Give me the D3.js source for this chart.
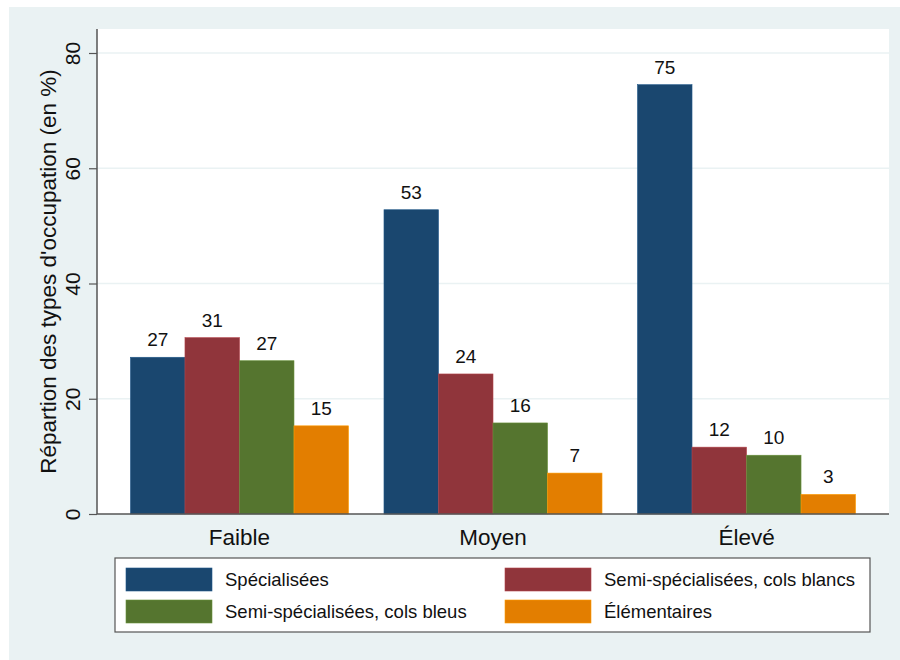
<!DOCTYPE html>
<html><head><meta charset="utf-8">
<script src="https://cdn.jsdelivr.net/npm/d3@7"></script>
<style>body{margin:0;background:#fff;}svg{display:block;font-family:"Liberation Sans",Arial,sans-serif;}</style>
</head><body><svg id="c" width="900" height="660"></svg>
<script>
const categories = ["Faible", "Moyen", "Élevé"];
const seriesNames = ["Spécialisées", "Semi-spécialisées, cols blancs", "Semi-spécialisées, cols bleus", "Élémentaires"];
const specialisees = [27.2, 52.8, 74.5];
const colsBlancs = [30.6, 24.3, 11.6];
const colsBleus = [26.6, 15.8, 10.2];
const elementaires = [15.3, 7.1, 3.4];
const valueLabels = [[27, 53, 75], [31, 24, 12], [27, 16, 10], [15, 7, 3]];
const yTicks = [0, 20, 40, 60, 80];
const colors = ["#1a476f", "#90353b", "#55752f", "#e37e00"];
const series = [specialisees, colsBlancs, colsBleus, elementaires];

const svg = d3.select("#c");
svg.append("rect").attr("x", 9).attr("y", 7).attr("width", 891).attr("height", 653).attr("fill", "#eaf2f3");

const L = 97, R = 889, T = 29, B = 514;
svg.append("rect").attr("x", L).attr("y", T).attr("width", R - L).attr("height", B - T).attr("fill", "#fff");

const x = d3.scaleBand().domain(categories).range([L, R]).paddingInner(0.14).paddingOuter(0.132);
const xs = d3.scaleBand().domain(d3.range(series.length)).range([0, x.bandwidth()]);
const y = d3.scaleLinear().domain([0, 80]).range([B, 53]);

// grid
svg.append("g").selectAll("line").data(yTicks.filter(d => d > 0)).join("line")
  .attr("x1", L).attr("x2", R).attr("y1", d => y(d)).attr("y2", d => y(d))
  .attr("stroke", "#eaf2f3").attr("stroke-width", 1.5);

// bars
series.forEach((vals, si) => {
  const g = svg.append("g");
  g.selectAll("rect").data(vals).join("rect")
    .attr("x", (d, i) => x(categories[i]) + xs(si))
    .attr("y", d => y(d))
    .attr("width", xs.bandwidth())
    .attr("height", d => B - y(d))
    .attr("fill", colors[si])
    .attr("stroke", d3.color(colors[si]).brighter(0.6)).attr("stroke-width", 0.6);
  g.selectAll("text").data(vals).join("text")
    .attr("x", (d, i) => x(categories[i]) + xs(si) + xs.bandwidth() / 2)
    .attr("y", d => y(d) - 11)
    .attr("text-anchor", "middle").attr("font-size", 19).attr("fill", "#111")
    .text((d, i) => valueLabels[si][i]);
});

// y axis
const yAxis = d3.axisLeft(y).tickValues(yTicks).tickSize(8).tickFormat(d3.format("d"));
const ya = svg.append("g").attr("transform", `translate(${L},0)`).call(yAxis);
ya.select(".domain").attr("d", `M0,${T}V${B}`).attr("stroke", "#555").attr("stroke-width", 1.5);
ya.selectAll(".tick line").attr("stroke", "#555").attr("stroke-width", 1.2);
ya.selectAll(".tick text").attr("font-size", 21).attr("fill", "#111")
  .attr("font-family", "Liberation Sans, Arial, sans-serif")
  .attr("text-anchor", "middle").attr("x", 0).attr("y", 0).attr("dy", 0)
  .attr("transform", "translate(-17,0) rotate(-90)");

// x axis
const xAxis = d3.axisBottom(x).tickSize(0).tickPadding(0);
const xa = svg.append("g").attr("transform", `translate(0,${B})`).call(xAxis);
xa.select(".domain").attr("d", `M${L},0H${R}`).attr("stroke", "#555").attr("stroke-width", 1.5);
xa.selectAll(".tick text").attr("font-size", 22.5).attr("fill", "#111")
  .attr("font-family", "Liberation Sans, Arial, sans-serif").attr("y", 31).attr("dy", 0);

// y title
svg.append("text").attr("transform", `translate(56,${(T + B) / 2}) rotate(-90)`)
  .attr("text-anchor", "middle").attr("font-size", 22.5).attr("fill", "#111")
  .text("Répartion des types d'occupation (en %)");

// legend
svg.append("rect").attr("x", 115).attr("y", 558).attr("width", 755).attr("height", 74)
  .attr("fill", "#fff").attr("stroke", "#555").attr("stroke-width", 1.2);
const legPos = [[126, 568], [505, 568], [126, 600], [505, 600]];
seriesNames.forEach((n, i) => {
  const [lx, ly] = legPos[i];
  svg.append("rect").attr("x", lx).attr("y", ly).attr("width", 86).attr("height", 23)
    .attr("fill", colors[i]).attr("stroke", d3.color(colors[i]).brighter(0.6)).attr("stroke-width", 0.6);
  svg.append("text").attr("x", lx + 99).attr("y", ly + 18).attr("font-size", 18.5).attr("fill", "#111").text(n);
});
</script></body></html>
